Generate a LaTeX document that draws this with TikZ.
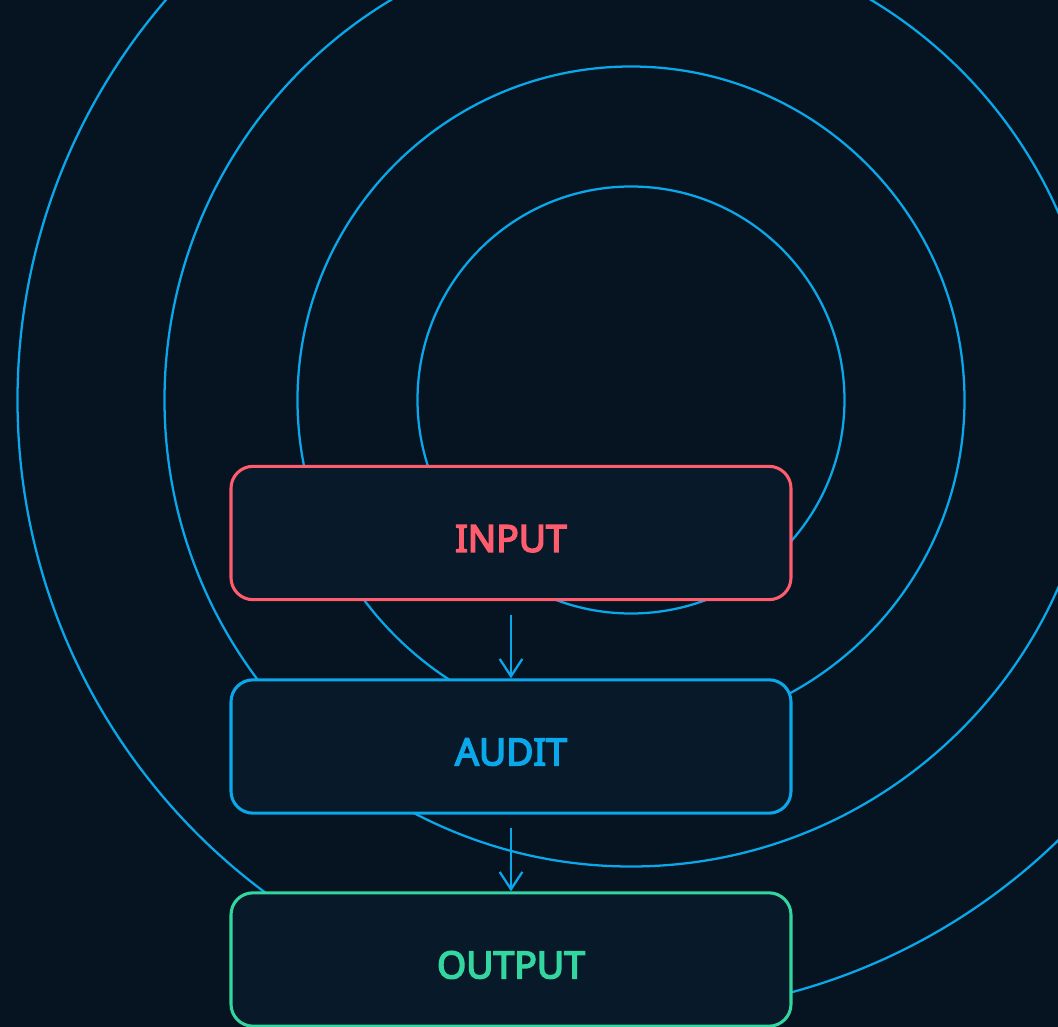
\documentclass[tikz,border=0pt]{standalone}
\usepackage{fontspec}
\setmainfont{Noto Sans}[AutoFakeBold=4.2]
\usetikzlibrary{arrows.meta}
\definecolor{bg}{HTML}{061320}
\definecolor{boxfill}{HTML}{08192A}
\definecolor{ring}{HTML}{0AA8EA}
\definecolor{inred}{HTML}{FF5C6E}
\definecolor{outgreen}{HTML}{34D6A0}
\tikzset{
  ringline/.style={draw=ring, line width=1.7pt},
  stage/.style={draw=#1, fill=boxfill, line width=2.3pt, rounded corners=16.5pt,
    minimum width=420pt, minimum height=100pt, inner sep=0pt,
    text height=28.2pt, text depth=0pt,
    text=#1, font=\bfseries\fontsize{28}{30}\selectfont},
  flow/.style={draw=ring, line width=1.7pt, -{Straight Barb[length=13pt, width=17pt, line width=1.7pt]}}
}
\begin{document}
\begin{tikzpicture}[x=0.75pt, y=-0.75pt]
\fill[bg] (0,0) rectangle (1058,1027);
\useasboundingbox (0,0) rectangle (1058,1027);
\begin{scope}
\clip (0,0) rectangle (1058,1027);
\coordinate (c) at (631,400);
\draw[ringline] (c) circle[radius=213.5];
\draw[ringline] (c) circle[radius=333.5];
\draw[ringline] (c) circle[radius=466.5];
\draw[ringline] (c) circle[radius=613.5];
\end{scope}
\node[stage=inred] (input) at (511,533) {INPUT};
\node[stage=ring] (audit) at (511,746.5) {AUDIT};
\node[stage=outgreen] (output) at (511,959.5) {OUTPUT};
\draw[flow] ([yshift=-10pt]input.south) -- (audit.north);
\draw[flow] ([yshift=-10pt]audit.south) -- (output.north);
\end{tikzpicture}
\end{document}
